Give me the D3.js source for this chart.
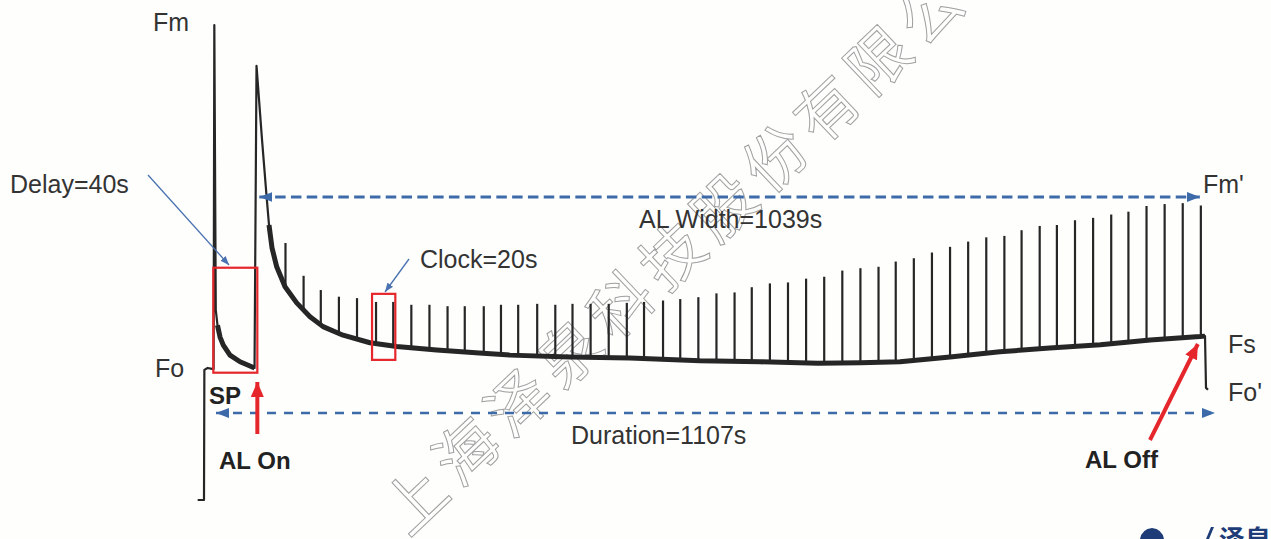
<!DOCTYPE html>
<html>
<head>
<meta charset="utf-8">
<script src="https://cdn.jsdelivr.net/npm/d3@7"></script>
<style>
  body { margin: 0; background: #fff; }
  text { font-family: "Liberation Sans", Arial, sans-serif; }
</style>
</head>
<body>
<svg id="chart" width="1271" height="539"></svg>
<script>
// slow fluorescence trace: time (s) / relative fluorescence
const traceT = [-7, 0, 0.4, 4, 8.8, 10.6, 11.4, 13.0, 14.9, 17.7, 21.3, 28.7, 39.8, 50.8, 55.8,
  58.0, 64.1, 69.0, 71.8, 75.1, 80.3, 89.5, 102.4, 117.1, 131.5, 153.6, 183.3, 212.8, 257,
  308, 338, 404, 470.5, 547.8, 614, 678, 725, 768.7, 824, 879, 934, 990, 1045, 1100,
  1105.6, 1106.7, 1108.9];
const traceF = [0, 0, 274, 278, 276, 276, 1000, 400, 368, 343, 326, 305, 291, 282, 278,
  914, 758, 642, 579, 531, 491, 449, 415, 386, 365, 347, 331, 323, 316,
  309, 305, 301, 299, 293, 291, 288, 289, 291, 301, 312, 320, 327, 337, 344,
  345, 236, 232];

// saturating pulses (clock = 20 s): time and peak (Fm')
const pulseT = [90, 110, 129, 149, 169, 190, 209, 229, 249, 269, 288, 309, 328, 347, 368, 388,
  407, 427, 447, 467, 486, 507, 526, 546, 566, 586, 605, 625, 645, 665, 685, 705, 725, 745,
  764, 784, 804, 824, 844, 864, 884, 903, 923, 942, 962, 982, 1002, 1021, 1041, 1061, 1081, 1101];
const pulseF = [541, 472, 442, 428, 425, 417, 417, 411, 411, 408, 408, 408, 411, 411, 413, 411,
  413, 413, 413, 415, 417, 420, 423, 427, 435, 437, 448, 456, 458, 466, 470, 483, 488, 491,
  502, 509, 521, 533, 544, 553, 556, 568, 577, 579, 589, 594, 601, 607, 619, 623, 625, 620];

const spTime = 10.3, alOnTime = 58.9, alOffTime = 1101;
const clockBox = [185.6, 211.3];

const labels = [
  ['Fm', 153, 31, false],
  ['Delay=40s', 10, 193, false],
  ['Fo', 155, 377, false],
  ['SP', 209, 404, true],
  ['AL On', 219, 469, true],
  ['Clock=20s', 420, 268, false],
  ['AL Width=1039s', 639, 228, false],
  ['Duration=1107s', 571, 444, false],
  ["Fm'", 1203, 193, false],
  ['Fs', 1228, 353, false],
  ["Fo'", 1228, 401, false],
  ['AL Off', 1085, 468, true]
];

let svg = d3.select('#chart');
let x = d3.scaleLinear().domain([0, 1110]).range([204, 1209]);
let y = d3.scaleLinear().domain([0, 1000]).range([500, 25]);

svg.append('rect').attr('width', 1271).attr('height', 539).attr('fill', '#fefefd');

let defs = svg.append('defs');
let marker = (id, w, h, color) => {
  defs.append('marker')
    .attr('id', id)
    .attr('markerUnits', 'userSpaceOnUse')
    .attr('markerWidth', w).attr('markerHeight', h)
    .attr('refX', w).attr('refY', h / 2)
    .attr('orient', 'auto-start-reverse')
    .append('path')
    .attr('d', `M0,0L${w},${h / 2}L0,${h}Z`)
    .attr('fill', color);
};
marker('blueHead', 13, 10, '#3d6aa8');
marker('thinHead', 9, 7, '#4a72b0');
marker('redHead', 15, 13, '#e5262b');

// watermark
let wm = svg.append('g').attr('transform', 'translate(412,497) rotate(-43.5)');
wm.append('text')
  .attr('x', -31).attr('y', 0)
  .attr('dominant-baseline', 'central')
  .style('font-family', '"Noto Sans CJK SC", sans-serif')
  .style('font-size', '62px')
  .style('letter-spacing', '9px')
  .attr('fill', 'none')
  .attr('stroke', '#a0a0a0')
  .attr('stroke-width', 1)
  .text('上海泽泉科技股份有限公司');

// trace
let line = d3.line().x((d) => x(d[0])).y((d) => y(d[1]));
let trace = traceT.map((t, i) => [t, traceF[i]]);
svg.append('path')
  .attr('d', line(trace))
  .attr('fill', 'none')
  .attr('stroke', '#262626')
  .attr('stroke-width', 2.2)
  .attr('stroke-linejoin', 'round');
// noisy band of the slower parts
let band = d3.line()
  .defined((d) => (d[0] >= 14 && d[0] <= 56) || (d[0] >= 71 && d[0] < 1106))
  .x((d) => x(d[0])).y((d) => y(d[1]));
svg.append('path')
  .attr('d', band(trace))
  .attr('fill', 'none')
  .attr('stroke', '#262626')
  .attr('stroke-width', 5)
  .attr('stroke-linejoin', 'round');

let baseAt = (t) => {
  let i = d3.bisectLeft(traceT, t);
  let t0 = traceT[i - 1], t1 = traceT[i];
  return traceF[i - 1] + (traceF[i] - traceF[i - 1]) * (t - t0) / (t1 - t0);
};

svg.append('g').selectAll('line').data(pulseT).enter().append('line')
  .attr('x1', (d) => x(d)).attr('x2', (d) => x(d))
  .attr('y1', (d) => y(baseAt(d)))
  .attr('y2', (d, i) => y(pulseF[i]))
  .attr('stroke', '#262626')
  .attr('stroke-width', 2.2);

// red boxes
svg.append('rect')
  .attr('x', x(spTime)).attr('y', y(489))
  .attr('width', x(alOnTime) - x(spTime)).attr('height', y(268) - y(489))
  .attr('fill', 'none').attr('stroke', '#e5262b').attr('stroke-width', 2.2);
svg.append('rect')
  .attr('x', x(clockBox[0])).attr('y', y(434))
  .attr('width', x(clockBox[1]) - x(clockBox[0])).attr('height', y(295) - y(434))
  .attr('fill', 'none').attr('stroke', '#e5262b').attr('stroke-width', 2.2);

// dashed span arrows
svg.append('line')
  .attr('x1', x(alOnTime) + 2).attr('x2', x(alOffTime) - 1)
  .attr('y1', 197).attr('y2', 197)
  .attr('stroke', '#3d6aa8').attr('stroke-width', 3)
  .attr('stroke-dasharray', '10.5,5.3')
  .attr('marker-start', 'url(#blueHead)').attr('marker-end', 'url(#blueHead)');
svg.append('line')
  .attr('x1', 216).attr('x2', 1215)
  .attr('y1', 413).attr('y2', 413)
  .attr('stroke', '#3d6aa8').attr('stroke-width', 2.6)
  .attr('stroke-dasharray', '9,8')
  .attr('marker-start', 'url(#blueHead)').attr('marker-end', 'url(#blueHead)');

// pointer arrows
svg.append('line')
  .attr('x1', 148).attr('y1', 175).attr('x2', 229).attr('y2', 265)
  .attr('stroke', '#4a72b0').attr('stroke-width', 1.3)
  .attr('marker-end', 'url(#thinHead)');
svg.append('line')
  .attr('x1', 409).attr('y1', 259).attr('x2', 385).attr('y2', 292)
  .attr('stroke', '#4a72b0').attr('stroke-width', 1.3)
  .attr('marker-end', 'url(#thinHead)');
svg.append('line')
  .attr('x1', x(alOnTime)).attr('y1', 434).attr('x2', x(alOnTime)).attr('y2', 382)
  .attr('stroke', '#e5262b').attr('stroke-width', 4)
  .attr('marker-end', 'url(#redHead)');
svg.append('line')
  .attr('x1', 1150).attr('y1', 440).attr('x2', x(alOffTime) - 3).attr('y2', 344)
  .attr('stroke', '#e5262b').attr('stroke-width', 4)
  .attr('marker-end', 'url(#redHead)');

// labels
svg.append('g').selectAll('text').data(labels).enter().append('text')
  .attr('x', (d) => d[1]).attr('y', (d) => d[2])
  .style('font-size', (d) => d[3] ? '24px' : '25px')
  .style('font-weight', (d) => d[3] ? 'bold' : 'normal')
  .attr('fill', (d) => d[3] ? '#222' : '#333')
  .text((d) => d[0]);

// corner logo (cut off by the page edge)
svg.append('path')
  .attr('d', 'M1140,539 Q1142,529 1152,528 Q1162,529 1164,539 Z')
  .attr('fill', '#1e3d78');
svg.append('path')
  .attr('d', 'M1214,527 L1209,539 L1206,539 L1211,527 Z')
  .attr('fill', '#1e3d78');
svg.append('text')
  .attr('x', 1219).attr('y', 549)
  .style('font-family', '"Noto Sans CJK SC", sans-serif')
  .style('font-size', '26px').style('font-weight', 'bold')
  .attr('fill', '#1e3d78')
  .text('泽泉');
</script>
</body>
</html>
